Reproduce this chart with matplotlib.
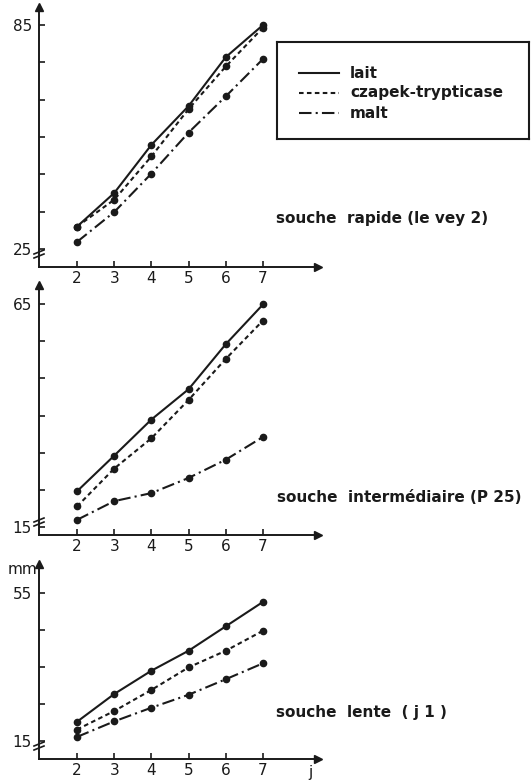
import numpy as np
import matplotlib
matplotlib.use("Agg")
from matplotlib import pyplot as plt

plt.rcParams['font.family'] = ['Liberation Sans Narrow', 'DejaVu Sans']

days = [2, 3, 4, 5, 6, 7]
series_names = ['lait', 'czapek-trypticase', 'malt']

# souche rapide (le vey 2)
rapide_lait = [31.0, 40.0, 52.9, 63.3, 76.4, 85.0]
rapide_czapek = [31.0, 38.2, 49.8, 62.5, 73.9, 84.3]
rapide_malt = [26.9, 34.9, 45.2, 56.2, 65.9, 75.9]

# souche intermediaire (P25)
inter_lait = [23.0, 31.0, 39.1, 45.9, 56.0, 64.9]
inter_czapek = [19.6, 28.1, 34.9, 43.5, 52.7, 61.3]
inter_malt = [16.6, 20.8, 22.6, 26.0, 30.1, 35.2]

# souche lente (j1)
lente_lait = [20.2, 27.7, 34.0, 39.4, 46.0, 52.6]
lente_czapek = [18.1, 23.1, 28.8, 34.9, 39.4, 44.8]
lente_malt = [16.1, 20.3, 24.0, 27.5, 31.7, 36.0]

W, H = 532, 781
ink = '#1a1a1a'
styles = [dict(ls='-'), dict(ls=(0, (2.2, 1.6))), dict(ls=(0, (6, 2, 1, 2)))]

fig = plt.figure(figsize=(W / 100, H / 100), dpi=100)

def make_axes(top, bot, v_hi, p_hi, v_lo, p_lo, ticks, labels):
    left, right = 39, 318
    ax = fig.add_axes([left / W, (H - bot) / H, (right - left) / W, (bot - top) / H])
    s = (v_hi - v_lo) / (p_lo - p_hi)
    ax.set_ylim(v_lo - (bot - p_lo) * s, v_hi + (p_hi - top) * s)
    ax.set_xlim(2 - 38 / 37.2, 2 + (right - 77) / 37.2)
    for sp in ['top', 'right']:
        ax.spines[sp].set_visible(False)
    for sp in ['left', 'bottom']:
        ax.spines[sp].set_linewidth(1.4)
        ax.spines[sp].set_color(ink)
    ax.set_xticks(days)
    ax.set_xticklabels([str(d) for d in days], fontsize=11)
    ax.set_yticks(ticks)
    ax.set_yticklabels(labels, fontsize=11)
    ax.tick_params(axis='y', direction='in', length=4, width=1.2, pad=5, colors=ink)
    ax.tick_params(axis='x', direction='in', length=4, width=1.2, pad=3, colors=ink)
    # arrow heads
    ax.plot(0, 1, '^', color=ink, ms=6, transform=ax.transAxes, clip_on=False)
    ax.plot(1, 0, '>', color=ink, ms=6, transform=ax.transAxes, clip_on=False)
    # axis break marks
    tr = ax.transAxes
    hpx = bot - top
    for k in (0, 1):
        y0 = (13 - 4 * k) / hpx
        ax.plot([-5 / 279, 5 / 279], [y0, y0 + 4 / hpx], color=ink, lw=1.2,
                transform=tr, clip_on=False)
    ax.patch.set_alpha(0)
    return ax

def draw(ax, vals):
    for v, st in zip(vals, styles):
        ax.plot(days, v, color=ink, lw=1.5, marker='o', ms=4.5, **st)

ax1 = make_axes(7, 267, 85, 25, 25, 249, np.arange(25, 86, 10),
                ['25', '', '', '', '', '', '85'])
draw(ax1, [rapide_lait, rapide_czapek, rapide_malt])

ax2 = make_axes(285, 535, 65, 304, 15, 527, np.linspace(15, 65, 7),
                ['15', '', '', '', '', '', '65'])
draw(ax2, [inter_lait, inter_czapek, inter_malt])

ax3 = make_axes(564, 759, 55, 593, 15, 741, np.arange(15, 56, 10),
                ['15', '', '', '', '55'])
draw(ax3, [lente_lait, lente_czapek, lente_malt])

bold = dict(fontsize=11, fontweight='bold', color=ink, va='center', ha='left',
            family=['DejaVu Sans'])
fig.text(276 / W, 1 - 218 / H, 'souche  rapide (le vey 2)', **bold)
fig.text(277 / W, 1 - 497 / H, 'souche  intermédiaire (P 25)', **bold)
fig.text(276 / W, 1 - 713 / H, 'souche  lente  ( j 1 )', **bold)
fig.text(8 / W, 1 - 570 / H, 'mm', fontsize=11, color=ink, va='center', ha='left')
fig.text(310 / W, 1 - 772 / H, 'j', fontsize=11, color=ink, va='center', ha='center')

# legend box
lg = fig.add_axes([277 / W, (H - 139) / H, (529 - 277) / W, (139 - 42) / H])
lg.set_xlim(0, 252)
lg.set_ylim(97, 0)
lg.set_xticks([])
lg.set_yticks([])
for sp in lg.spines.values():
    sp.set_linewidth(1.5)
    sp.set_color(ink)
for i, (name, st) in enumerate(zip(series_names, styles)):
    y = 31 + i * 20
    lg.plot([22, 62], [y, y], color=ink, lw=1.5, **st)
    lg.text(73, y, name, fontsize=11, fontweight='bold', color=ink, va='center',
            family=['DejaVu Sans'])

fig.savefig('out.png', dpi=100, facecolor='white')
